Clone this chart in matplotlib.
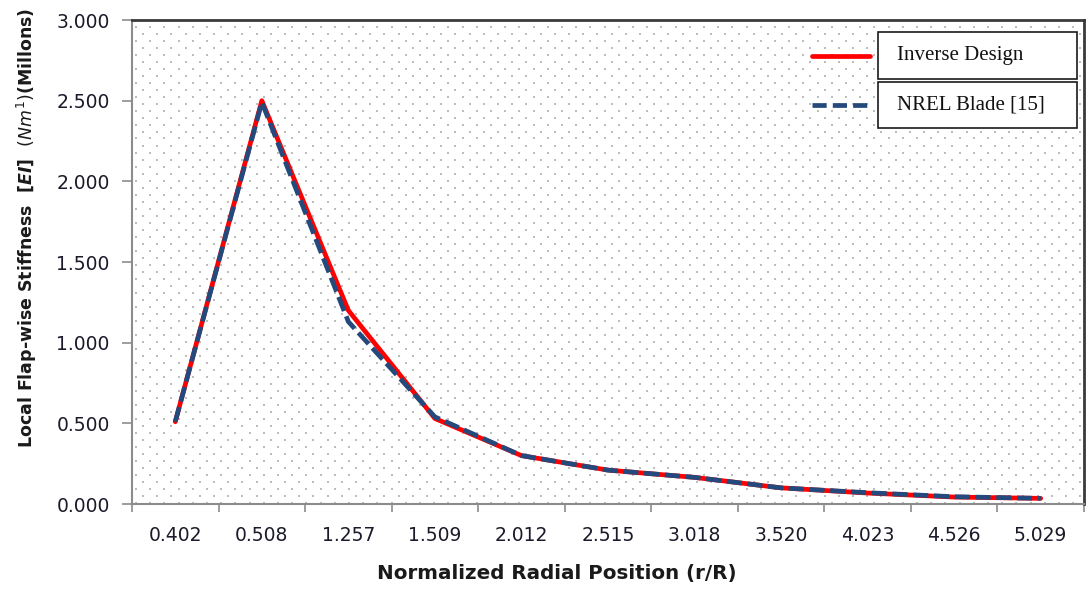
import matplotlib
matplotlib.use("Agg")
import matplotlib.pyplot as plt
import numpy as np
from matplotlib.lines import Line2D
from matplotlib.patches import Rectangle

W, H = 1089, 590
RED, BLUE, DOT = "#ff0000", "#24497c", "#bdbdbd"

categories = ["0.402", "0.508", "1.257", "1.509", "2.012", "2.515",
              "3.018", "3.520", "4.023", "4.526", "5.029"]
inverse_design = [0.51, 2.50, 1.20, 0.53, 0.30, 0.21, 0.165, 0.10, 0.068, 0.043, 0.035]
nrel_blade = [0.51, 2.49, 1.13, 0.54, 0.30, 0.21, 0.165, 0.10, 0.070, 0.045, 0.035]
y_ticks = [0.0, 0.5, 1.0, 1.5, 2.0, 2.5, 3.0]


def fx(px):
    return px / W


def fy(py):
    return 1 - py / H


fig = plt.figure(figsize=(W / 100, H / 100), dpi=100)
x0, x1, y0, y1 = 132, 1084, 20, 504
ax = fig.add_axes([fx(x0), fy(y1), fx(x1) - fx(x0), fy(y0) - fy(y1)])

# dotted pattern fill of the plot area (staggered lattice, ~14 x 7 px)
pw, ph = x1 - x0, y1 - y0
rows = np.arange(6.5, ph, 7.0)
gx, gy = [], []
for i, r in enumerate(rows):
    start = 4 if i % 2 == 0 else 11
    cols = np.arange(start, pw, 14.2)
    gx.extend(cols / pw)
    gy.extend([1 - r / ph] * len(cols))
ax.scatter(gx, gy, s=1.0, color=DOT, marker="s", linewidths=0,
           transform=ax.transAxes, zorder=0)

x = np.arange(len(categories))
ax.plot(x, inverse_design, color=RED, lw=3.4, solid_capstyle="round", zorder=3)
ax.plot(x, nrel_blade, color=BLUE, lw=3.4, linestyle=(0, (3.2, 1.2)),
        dash_capstyle="butt", zorder=4)

ax.set_xlim(-0.5, len(categories) - 0.5)
ax.set_ylim(0, 3)
ax.set_xticks(x)
ax.set_xticklabels(categories)
ax.set_xticks(np.arange(-0.5, len(categories)), minor=True)
ax.set_yticks(y_ticks)
ax.set_yticklabels([f"{v:.3f}" for v in y_ticks])
ax.tick_params(axis="x", which="major", length=0, pad=16, labelsize=13.5, labelcolor="#1a1a2a")
ax.tick_params(axis="x", which="minor", length=6, width=1.2, color="#8c8c8c")
ax.tick_params(axis="y", length=7, width=1.2, color="#8c8c8c", pad=9,
               labelsize=13.5, labelcolor="#1a1a2a")

for s in ["left", "bottom"]:
    ax.spines[s].set_color("#8c8c8c")
    ax.spines[s].set_linewidth(1.5)
for s in ["top", "right"]:
    ax.spines[s].set_color("#3a3a3a")
    ax.spines[s].set_linewidth(2)

fig.text(fx(557), fy(574), "Normalized Radial Position (r/R)", ha="center", va="center",
         fontsize=14.3, fontweight="bold", color="#1a1a1a")
fig.text(fx(27), fy(228),
         r"Local Flap-wise Stiffness  $\mathbf{[}\boldsymbol{EI}\mathbf{]}$  $(\mathit{Nm}^{1})$(Millons)",
         ha="center", va="center", rotation=90, fontsize=12.5, fontweight="bold", color="#1a1a1a")

# legend: each entry in its own box, line sample outside the box
entries = [("Inverse Design", RED, "-", 32, 79),
           ("NREL Blade [15]", BLUE, (0, (3.0, 1.3)), 82, 128)]
for label, col, ls, top, bot in entries:
    fig.add_artist(Rectangle((fx(878), fy(bot)), fx(1077) - fx(878), fy(top) - fy(bot),
                             transform=fig.transFigure, facecolor="white",
                             edgecolor="#1a1a1a", lw=1.2, zorder=5))
    yc = (top + bot) / 2
    fig.add_artist(Line2D([fx(812), fx(870)], [fy(yc), fy(yc)], color=col, lw=3.4,
                          linestyle=ls, solid_capstyle="round", dash_capstyle="butt",
                          transform=fig.transFigure, zorder=5))
    fig.text(fx(897), fy(yc), label, ha="left", va="center", fontsize=15,
             family="Liberation Serif", color="#111111", zorder=6)

fig.savefig("out.png", dpi=100)
